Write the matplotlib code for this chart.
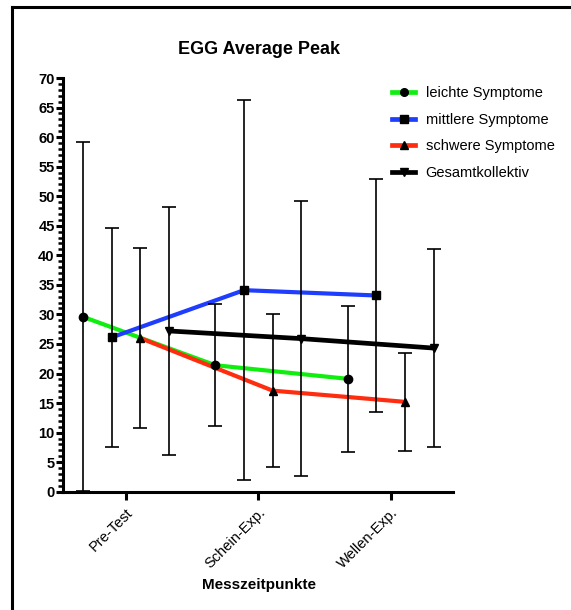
import matplotlib
matplotlib.use("Agg")
import matplotlib.pyplot as plt
from matplotlib.lines import Line2D
from matplotlib.ticker import MultipleLocator
import numpy as np

plt.rcParams['font.family'] = ['Liberation Sans', 'DejaVu Sans']

zeitpunkte = ["Pre-Test", "Schein-Exp.", "Wellen-Exp."]
gruppen = ["leichte Symptome", "mittlere Symptome", "schwere Symptome", "Gesamtkollektiv"]

# Mittelwerte und Standardabweichungen
leicht_mw = [29.6, 21.4, 19.1]
leicht_sd = [29.5, 10.3, 12.4]
mittel_mw = [26.1, 34.1, 33.2]
mittel_sd = [18.5, 32.2, 19.7]
schwer_mw = [26.0, 17.1, 15.2]
schwer_sd = [15.3, 12.9, 8.3]
gesamt_mw = [27.2, 25.9, 24.3]
gesamt_sd = [21.0, 23.3, 16.8]

farben = ['#10ee10', '#1f3dff', '#ff2d0f', '#000000']
marker = ['o', 's', '^', 'v']
versatz = [-0.325, -0.108, 0.108, 0.325]

fig = plt.figure(figsize=(5.71, 6.10), dpi=100)
ax = fig.add_axes([63/571, 1-491.7/610, 390/571, (491.7-78)/610])

x = np.arange(len(zeitpunkte))
daten = [(leicht_mw, leicht_sd), (mittel_mw, mittel_sd),
         (schwer_mw, schwer_sd), (gesamt_mw, gesamt_sd)]

for i, (mw, sd) in enumerate(daten):
    xs = x + versatz[i]
    lw = 3.4 if i == 3 else 3.0
    ax.plot(xs, mw, '-', color=farben[i], lw=lw, zorder=2, solid_capstyle='butt')
    ax.errorbar(xs, mw, yerr=sd, fmt='none', ecolor='black', elinewidth=1.2,
                capsize=5, capthick=1.2, zorder=3)
    ax.plot(xs, mw, linestyle='none', marker=marker[i], color='black',
            markersize=6 if i != 3 else 5.5, zorder=4)

ax.set_xlim(-0.475, 2.47)
ax.set_ylim(0, 70)
ax.set_xticks(x)
ax.set_xticklabels(zeitpunkte, rotation=45, ha='right', va='top',
                   rotation_mode='anchor', fontsize=10.5)
ax.yaxis.set_major_locator(MultipleLocator(5))
ax.yaxis.set_minor_locator(MultipleLocator(1))
for lab in ax.get_yticklabels():
    lab.set_fontweight('bold')
    lab.set_fontsize(10.5)
ax.tick_params(axis='y', which='major', length=5, width=2.2, pad=1)
ax.tick_params(axis='y', which='minor', length=3.5, width=1.8)
ax.tick_params(axis='x', which='major', length=6, width=2.2, pad=4)
for s in ['top', 'right']:
    ax.spines[s].set_visible(False)
for s in ['left', 'bottom']:
    ax.spines[s].set_linewidth(2.2)

handles = [Line2D([], [], color=farben[i], lw=3.4, marker=marker[i],
                  markerfacecolor='black', markeredgecolor='black', markersize=5.5)
           for i in range(4)]
fig.legend(handles, gruppen, loc='upper left', bbox_to_anchor=(392/571, 1-86/610),
           frameon=False, fontsize=10.5, handlelength=1.6, handletextpad=0.7,
           labelspacing=0.87, borderpad=0, borderaxespad=0)

fig.text(259/571, 1-50/610, "EGG Average Peak", ha='center', va='center',
         fontweight='bold', fontsize=13)
fig.text(259/571, 1-585/610, "Messzeitpunkte", ha='center', va='center',
         fontweight='bold', fontsize=11)

# Rahmen links und oben
fig.add_artist(Line2D([12/571, 12/571], [0, 1-7/610], color='black', lw=2.2,
                      transform=fig.transFigure))
fig.add_artist(Line2D([12/571, 1], [1-7/610, 1-7/610], color='black', lw=2.2,
                      transform=fig.transFigure))

fig.savefig("out.png", dpi=100)
